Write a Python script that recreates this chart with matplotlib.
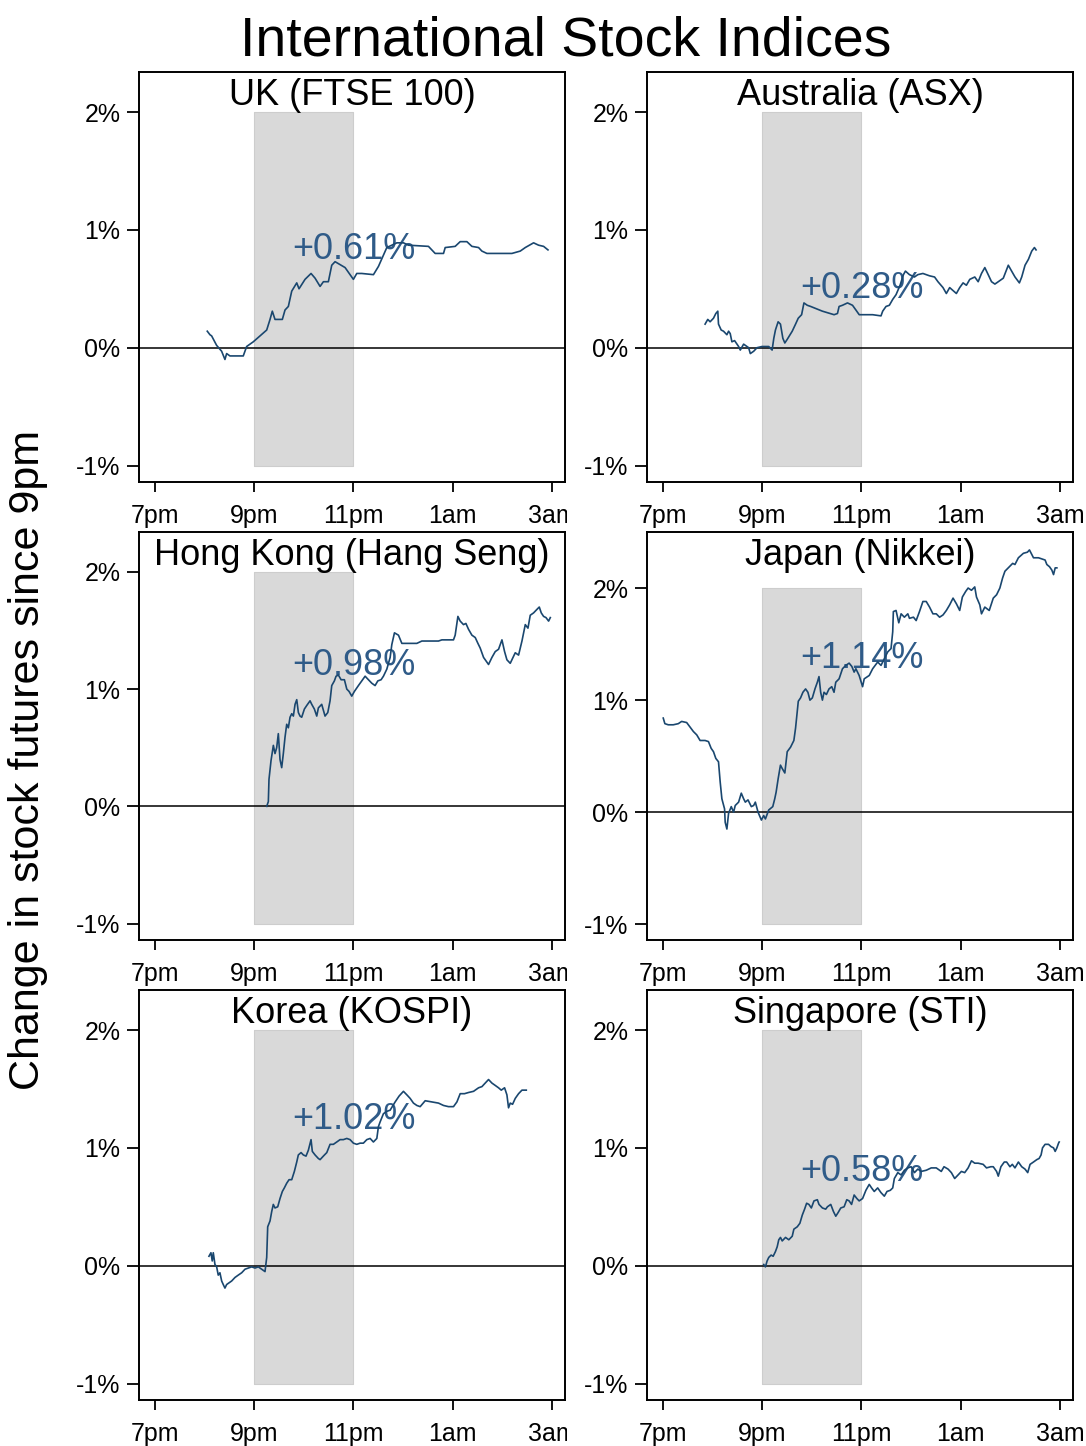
import matplotlib
matplotlib.use('Agg')
import matplotlib.pyplot as plt
from matplotlib.transforms import Bbox

plt.rcParams['font.family'] = ['Liberation Sans', 'DejaVu Sans']

# hours after 7pm, % change since 9pm
uk_ftse = [(1.055, 0.14), (1.109, 0.11), (1.143, 0.10), (1.243, 0.02), (1.344, -0.03), (1.411, -0.10),
           (1.445, -0.05), (1.512, -0.07), (1.780, -0.07), (1.848, 0.01), (1.982, 0.05), (2.252, 0.15),
           (2.319, 0.24), (2.365, 0.31), (2.419, 0.24), (2.567, 0.24), (2.621, 0.32), (2.688, 0.35),
           (2.756, 0.48), (2.857, 0.55), (2.903, 0.50), (3.024, 0.58), (3.145, 0.63), (3.226, 0.59),
           (3.327, 0.52), (3.394, 0.56), (3.494, 0.56), (3.562, 0.70), (3.629, 0.73), (3.710, 0.71),
           (3.831, 0.68), (3.931, 0.62), (3.998, 0.58), (4.066, 0.63), (4.167, 0.63), (4.402, 0.62),
           (4.503, 0.69), (4.671, 0.85), (4.772, 0.87), (4.873, 0.89), (5.006, 0.89), (5.107, 0.87),
           (5.510, 0.86), (5.645, 0.80), (5.813, 0.80), (5.847, 0.85), (6.048, 0.86), (6.149, 0.90),
           (6.284, 0.90), (6.385, 0.86), (6.519, 0.85), (6.586, 0.82), (6.687, 0.80), (6.855, 0.80),
           (7.191, 0.80), (7.359, 0.82), (7.460, 0.85), (7.627, 0.89), (7.728, 0.87), (7.829, 0.86),
           (7.917, 0.83)]

aus_asx = [(0.850, 0.20), (0.904, 0.24), (0.951, 0.22), (1.019, 0.25), (1.066, 0.29), (1.106, 0.31),
           (1.120, 0.20), (1.174, 0.15), (1.221, 0.14), (1.289, 0.11), (1.323, 0.14), (1.356, 0.12),
           (1.390, 0.05), (1.444, 0.06), (1.525, 0.01), (1.559, -0.02), (1.626, 0.03), (1.727, 0.00),
           (1.761, -0.05), (1.829, -0.03), (1.896, 0.00), (1.997, 0.01), (2.132, 0.01), (2.200, -0.02),
           (2.234, 0.08), (2.267, 0.15), (2.321, 0.22), (2.368, 0.20), (2.416, 0.08), (2.456, 0.04),
           (2.503, 0.07), (2.605, 0.14), (2.672, 0.20), (2.726, 0.25), (2.794, 0.28), (2.841, 0.38),
           (2.908, 0.36), (2.976, 0.35), (3.212, 0.31), (3.448, 0.28), (3.516, 0.29), (3.549, 0.35),
           (3.617, 0.36), (3.718, 0.38), (3.819, 0.36), (3.887, 0.32), (3.954, 0.28), (4.089, 0.28),
           (4.224, 0.28), (4.393, 0.27), (4.427, 0.31), (4.494, 0.35), (4.561, 0.36), (4.629, 0.41),
           (4.696, 0.45), (4.777, 0.53), (4.845, 0.62), (4.885, 0.65), (4.966, 0.62), (5.067, 0.60),
           (5.135, 0.62), (5.237, 0.63), (5.371, 0.61), (5.472, 0.60), (5.540, 0.56), (5.642, 0.51),
           (5.709, 0.46), (5.776, 0.51), (5.857, 0.48), (5.911, 0.46), (5.978, 0.51), (6.046, 0.55),
           (6.113, 0.53), (6.181, 0.58), (6.282, 0.60), (6.350, 0.56), (6.417, 0.63), (6.484, 0.68),
           (6.552, 0.62), (6.619, 0.56), (6.687, 0.54), (6.755, 0.56), (6.856, 0.59), (6.957, 0.70),
           (7.024, 0.65), (7.092, 0.60), (7.180, 0.55), (7.227, 0.60), (7.294, 0.70), (7.362, 0.75),
           (7.429, 0.82), (7.483, 0.85), (7.516, 0.83)]

hk_hangseng = [(2.252, 0.00), (2.285, 0.04), (2.298, 0.23), (2.339, 0.39), (2.386, 0.52), (2.419, 0.45),
               (2.453, 0.50), (2.486, 0.62), (2.520, 0.40), (2.554, 0.33), (2.587, 0.45), (2.621, 0.59),
               (2.655, 0.70), (2.688, 0.67), (2.722, 0.76), (2.756, 0.79), (2.789, 0.77), (2.823, 0.87),
               (2.857, 0.91), (2.890, 0.80), (2.923, 0.77), (2.957, 0.76), (3.011, 0.83), (3.058, 0.86),
               (3.125, 0.90), (3.159, 0.87), (3.212, 0.83), (3.260, 0.77), (3.293, 0.84), (3.360, 0.87),
               (3.427, 0.77), (3.482, 0.80), (3.528, 0.90), (3.562, 1.03), (3.615, 1.07), (3.649, 1.11),
               (3.696, 1.12), (3.750, 1.08), (3.817, 1.08), (3.865, 1.00), (3.911, 0.98), (3.965, 0.94),
               (4.018, 0.98), (4.099, 1.03), (4.167, 1.07), (4.234, 1.11), (4.301, 1.08), (4.369, 1.05),
               (4.435, 1.03), (4.490, 1.07), (4.556, 1.08), (4.603, 1.11), (4.671, 1.17), (4.738, 1.27),
               (4.772, 1.38), (4.825, 1.48), (4.906, 1.46), (4.974, 1.39), (5.107, 1.39), (5.276, 1.39),
               (5.377, 1.41), (5.712, 1.41), (5.780, 1.42), (6.014, 1.42), (6.048, 1.46), (6.103, 1.62),
               (6.149, 1.58), (6.216, 1.55), (6.264, 1.56), (6.317, 1.51), (6.385, 1.46), (6.452, 1.44),
               (6.506, 1.39), (6.552, 1.35), (6.620, 1.27), (6.720, 1.21), (6.788, 1.27), (6.855, 1.32),
               (6.922, 1.34), (6.990, 1.42), (7.043, 1.32), (7.090, 1.25), (7.157, 1.22), (7.224, 1.28),
               (7.258, 1.31), (7.325, 1.29), (7.393, 1.41), (7.460, 1.55), (7.514, 1.52), (7.560, 1.63),
               (7.627, 1.65), (7.695, 1.68), (7.742, 1.70), (7.782, 1.65), (7.829, 1.62), (7.877, 1.61),
               (7.930, 1.58), (7.964, 1.61)]

jp_nikkei = [(0.007, 0.84), (0.040, 0.79), (0.108, 0.78), (0.209, 0.78), (0.310, 0.79), (0.378, 0.81),
             (0.479, 0.80), (0.547, 0.76), (0.614, 0.72), (0.682, 0.69), (0.749, 0.64), (0.850, 0.64),
             (0.918, 0.63), (0.972, 0.57), (1.019, 0.54), (1.066, 0.48), (1.120, 0.45), (1.154, 0.27),
             (1.188, 0.12), (1.242, 0.03), (1.255, -0.09), (1.289, -0.15), (1.323, -0.01), (1.377, 0.05),
             (1.424, 0.00), (1.457, 0.06), (1.525, 0.09), (1.579, 0.17), (1.626, 0.12), (1.660, 0.09),
             (1.714, 0.11), (1.781, 0.05), (1.828, 0.06), (1.862, 0.09), (1.917, 0.00), (1.984, -0.07),
             (2.030, -0.03), (2.065, -0.06), (2.132, 0.02), (2.213, 0.05), (2.253, 0.12), (2.281, 0.18),
             (2.322, 0.30), (2.368, 0.42), (2.403, 0.39), (2.456, 0.35), (2.504, 0.54), (2.571, 0.58),
             (2.638, 0.64), (2.672, 0.75), (2.727, 0.99), (2.773, 1.02), (2.820, 1.07), (2.874, 1.10),
             (2.921, 1.07), (2.962, 1.00), (3.010, 1.02), (3.063, 1.10), (3.111, 1.16), (3.144, 1.21),
             (3.178, 1.07), (3.213, 1.00), (3.245, 1.07), (3.293, 1.05), (3.346, 1.10), (3.401, 1.12),
             (3.447, 1.07), (3.482, 1.16), (3.549, 1.19), (3.617, 1.28), (3.684, 1.31), (3.751, 1.33),
             (3.806, 1.30), (3.852, 1.25), (3.887, 1.28), (3.953, 1.22), (4.022, 1.12), (4.055, 1.19),
             (4.156, 1.22), (4.225, 1.28), (4.326, 1.34), (4.393, 1.31), (4.460, 1.37), (4.528, 1.43),
             (4.595, 1.46), (4.629, 1.61), (4.642, 1.79), (4.696, 1.80), (4.751, 1.69), (4.798, 1.77),
             (4.864, 1.74), (4.933, 1.77), (4.966, 1.73), (5.047, 1.74), (5.101, 1.71), (5.168, 1.79),
             (5.237, 1.88), (5.304, 1.88), (5.371, 1.83), (5.439, 1.77), (5.506, 1.77), (5.573, 1.74),
             (5.642, 1.76), (5.709, 1.80), (5.776, 1.85), (5.844, 1.91), (5.911, 1.86), (5.978, 1.80),
             (6.032, 1.92), (6.099, 1.97), (6.148, 2.00), (6.215, 1.98), (6.281, 2.01), (6.316, 1.92),
             (6.383, 1.85), (6.417, 1.77), (6.484, 1.83), (6.573, 1.80), (6.654, 1.91), (6.721, 1.94),
             (6.787, 2.00), (6.842, 2.09), (6.889, 2.15), (6.957, 2.18), (7.045, 2.22), (7.091, 2.21),
             (7.160, 2.27), (7.261, 2.31), (7.342, 2.32), (7.383, 2.34), (7.429, 2.30), (7.464, 2.27),
             (7.565, 2.27), (7.698, 2.25), (7.733, 2.21), (7.787, 2.19), (7.834, 2.16), (7.868, 2.12),
             (7.901, 2.18), (7.935, 2.18)]

kr_kospi = [(1.089, 0.08), (1.129, 0.11), (1.155, 0.04), (1.176, 0.11), (1.210, 0.01), (1.244, -0.01),
            (1.276, -0.08), (1.310, -0.06), (1.345, -0.13), (1.377, -0.16), (1.411, -0.19), (1.445, -0.16),
            (1.478, -0.15), (1.546, -0.13), (1.613, -0.10), (1.679, -0.08), (1.748, -0.06), (1.815, -0.03),
            (1.881, -0.02), (1.950, -0.01), (2.016, -0.02), (2.083, -0.01), (2.151, -0.03), (2.218, -0.05),
            (2.252, 0.07), (2.272, 0.33), (2.319, 0.38), (2.353, 0.46), (2.385, 0.52), (2.419, 0.49),
            (2.474, 0.50), (2.520, 0.57), (2.567, 0.63), (2.607, 0.66), (2.655, 0.70), (2.702, 0.73),
            (2.756, 0.73), (2.809, 0.80), (2.857, 0.88), (2.889, 0.94), (2.944, 0.96), (2.990, 0.94),
            (3.044, 0.93), (3.091, 0.98), (3.145, 1.07), (3.171, 0.97), (3.226, 0.94), (3.292, 0.91),
            (3.327, 0.90), (3.393, 0.93), (3.462, 0.96), (3.528, 1.03), (3.595, 1.03), (3.663, 1.05),
            (3.730, 1.07), (3.796, 1.07), (3.865, 1.08), (3.931, 1.07), (3.998, 1.04), (4.066, 1.03),
            (4.133, 1.04), (4.199, 1.04), (4.268, 1.07), (4.335, 1.08), (4.401, 1.05), (4.470, 1.08),
            (4.502, 1.18), (4.536, 1.22), (4.603, 1.29), (4.671, 1.31), (4.738, 1.32), (4.839, 1.39),
            (4.919, 1.44), (5.006, 1.48), (5.075, 1.45), (5.141, 1.42), (5.208, 1.38), (5.276, 1.36),
            (5.343, 1.35), (5.444, 1.40), (5.578, 1.39), (5.712, 1.38), (5.813, 1.36), (5.913, 1.35),
            (6.014, 1.35), (6.083, 1.39), (6.149, 1.46), (6.236, 1.46), (6.317, 1.47), (6.418, 1.48),
            (6.519, 1.51), (6.587, 1.52), (6.653, 1.55), (6.720, 1.58), (6.788, 1.55), (6.855, 1.53),
            (6.921, 1.51), (6.976, 1.49), (7.043, 1.51), (7.090, 1.45), (7.123, 1.34), (7.157, 1.38),
            (7.204, 1.37), (7.258, 1.42), (7.325, 1.46), (7.393, 1.49), (7.480, 1.49)]

sg_sti = [(2.031, 0.01), (2.065, -0.01), (2.099, 0.04), (2.132, 0.07), (2.180, 0.09), (2.221, 0.08),
          (2.267, 0.12), (2.302, 0.16), (2.334, 0.22), (2.368, 0.24), (2.403, 0.21), (2.470, 0.24),
          (2.536, 0.22), (2.605, 0.25), (2.638, 0.31), (2.706, 0.33), (2.759, 0.36), (2.808, 0.43),
          (2.854, 0.48), (2.895, 0.53), (2.941, 0.52), (2.990, 0.49), (3.043, 0.55), (3.111, 0.56),
          (3.144, 0.52), (3.213, 0.49), (3.279, 0.48), (3.314, 0.50), (3.381, 0.52), (3.435, 0.46),
          (3.482, 0.42), (3.528, 0.45), (3.583, 0.49), (3.650, 0.50), (3.704, 0.56), (3.751, 0.55),
          (3.800, 0.52), (3.852, 0.60), (3.907, 0.57), (3.953, 0.55), (4.022, 0.57), (4.089, 0.64),
          (4.156, 0.69), (4.204, 0.66), (4.257, 0.63), (4.326, 0.66), (4.393, 0.62), (4.460, 0.59),
          (4.514, 0.63), (4.581, 0.64), (4.629, 0.66), (4.662, 0.74), (4.731, 0.79), (4.798, 0.77),
          (4.864, 0.81), (4.933, 0.83), (5.000, 0.84), (5.067, 0.79), (5.135, 0.82), (5.202, 0.80),
          (5.304, 0.81), (5.405, 0.83), (5.506, 0.83), (5.607, 0.80), (5.662, 0.84), (5.743, 0.82),
          (5.810, 0.79), (5.877, 0.74), (5.945, 0.77), (6.012, 0.80), (6.079, 0.79), (6.148, 0.83),
          (6.215, 0.89), (6.281, 0.87), (6.350, 0.87), (6.451, 0.86), (6.518, 0.83), (6.605, 0.84),
          (6.654, 0.84), (6.721, 0.80), (6.755, 0.76), (6.808, 0.84), (6.876, 0.88), (6.923, 0.88),
          (6.990, 0.84), (7.038, 0.86), (7.091, 0.83), (7.160, 0.88), (7.227, 0.84), (7.293, 0.82),
          (7.348, 0.79), (7.395, 0.86), (7.464, 0.88), (7.530, 0.90), (7.577, 0.91), (7.617, 0.94),
          (7.646, 1.00), (7.698, 1.03), (7.767, 1.03), (7.820, 1.01), (7.868, 1.00), (7.901, 0.97),
          (7.935, 1.00), (7.969, 1.04), (7.982, 1.05)]

panel_titles = ['UK (FTSE 100)', 'Australia (ASX)', 'Hong Kong (Hang Seng)',
                'Japan (Nikkei)', 'Korea (KOSPI)', 'Singapore (STI)']
panel_series = [uk_ftse, aus_asx, hk_hangseng, jp_nikkei, kr_kospi, sg_sti]
changes_9_to_11 = [0.61, 0.28, 0.98, 1.14, 1.02, 0.58]

hour_ticks = [0, 2, 4, 6, 8]
hour_labels = ['7pm', '9pm', '11pm', '1am', '3am']
pct_ticks = [-1, 0, 1, 2]
pct_labels = ['-1%', '0%', '1%', '2%']

NAVY = '#1a476f'


def draw_panel(ax, series, title, change, ymax):
    t = [p[0] for p in series]
    v = [p[1] for p in series]
    # 9pm - 11pm window
    ax.fill_between([2, 4], -1, 2, color='#d9d9d9', edgecolor='#cdcdcd', lw=0.8, zorder=1)
    ax.axhline(0, color='black', lw=1.1, zorder=2)
    ax.annotate('+%.2f%%' % change, xy=(4, change), xytext=(0, 12), textcoords='offset points',
                ha='center', va='baseline', fontsize=26, color='#2f5b88', zorder=2.5)
    ax.plot(t, v, color=NAVY, lw=1.2, zorder=3)

    ax.set_xlim(-0.32, 8.26)
    ax.set_ylim(-1.14, ymax)
    ax.set_xticks(hour_ticks)
    ax.set_xticklabels(hour_labels)
    ax.set_yticks(pct_ticks)
    ax.set_yticklabels(pct_labels)
    ax.tick_params(axis='x', direction='out', length=7, width=1.3, pad=9, labelsize=18)
    ax.tick_params(axis='y', direction='out', length=8.5, width=1.3, pad=5, labelsize=18)
    for s in ax.spines.values():
        s.set_linewidth(1.4)
    ax.annotate(title, xy=(0.5, 1), xycoords='axes fraction', xytext=(0, -24),
                textcoords='offset points', ha='center', va='baseline', fontsize=26)


fig = plt.figure(figsize=(10.86, 14.46), dpi=100)
W, H = 1086.0, 1446.0
col_left = [139, 647]
col_width = 426
row_box = [(72, 482), (532, 940), (990, 1400)]

for i in range(6):
    r, c = divmod(i, 2)
    top, bottom = row_box[r]
    ax = fig.add_axes([col_left[c] / W, 1 - bottom / H, col_width / W, (bottom - top) / H])
    ymax = 2.5 if panel_titles[i].startswith('Japan') else 2.34
    draw_panel(ax, panel_series[i], panel_titles[i], changes_9_to_11[i], ymax)
    if c == 0:
        # left column labels get cut off by the right column (3am -> 3an)
        clip = Bbox.from_extents(0, 0, 567, H)
        for tick in ax.xaxis.get_major_ticks():
            tick.label1.set_clip_box(clip)
            tick.label1.set_clip_on(True)

fig.text(566 / W, 1 - 55 / H, 'International Stock Indices', ha='center', va='baseline', fontsize=40)
fig.text(28 / W, 1 - 760 / H, 'Change in stock futures since 9pm', rotation=90,
         ha='center', va='center', fontsize=31)

fig.savefig('out.png', dpi=100, facecolor='white')
